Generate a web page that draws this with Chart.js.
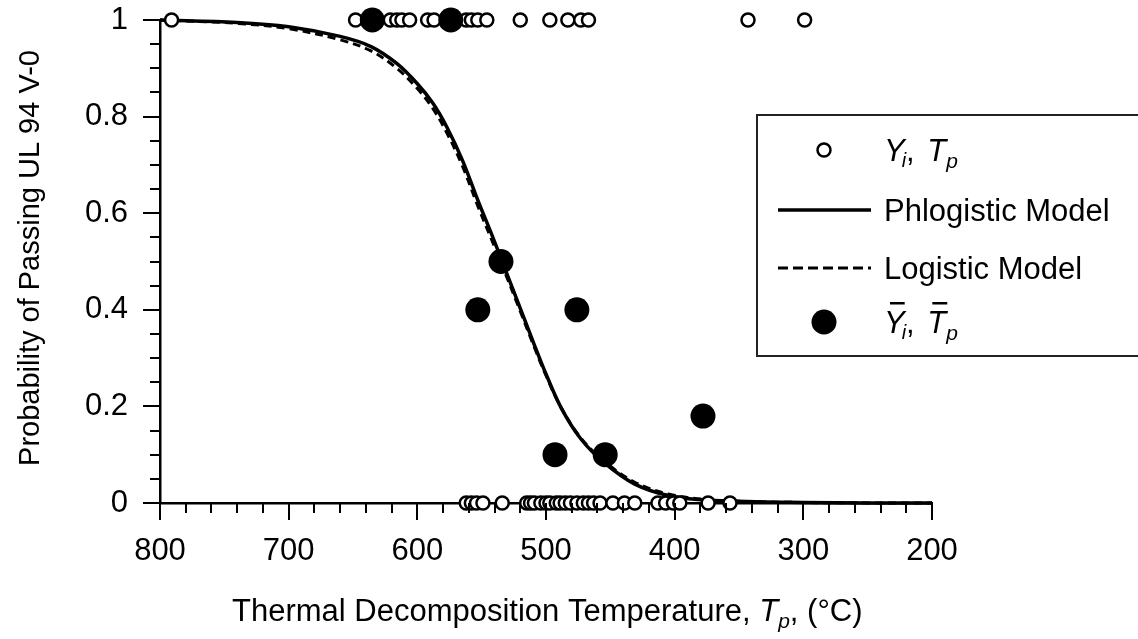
<!DOCTYPE html>
<html>
<head>
<meta charset="utf-8">
<script src="https://cdn.jsdelivr.net/npm/chart.js@4.4.1/dist/chart.umd.min.js"></script>
<style>
  html, body { margin: 0; padding: 0; background: #fff; }
  #wrap { width: 1138px; height: 639px; position: relative; }
</style>
</head>
<body>
<div id="wrap"><canvas id="c"></canvas></div>
<script>
// ---- Data ----
// Individual observations Y_i = 1 (passed) : decomposition temperature Tp (°C)
const passTemps = [791, 648, 621, 616, 612, 606, 592, 587, 562, 558, 553, 546, 520, 497, 483, 473, 467, 343, 299];
// Individual observations Y_i = 0 (failed)
const failTemps = [562, 558, 554, 549, 534, 515, 512, 509, 504, 500, 497, 492, 489, 485, 481, 476, 471, 467, 463, 458, 448, 439, 431, 413, 407, 401, 396, 374, 357];
// Group means (T̄p, Ȳi)
const meanTemps = [635, 574, 553, 535, 476, 493, 454, 378];
const meanProbs = [1.0, 1.0, 0.4, 0.5, 0.4, 0.1, 0.1, 0.18];
// Model curves
const curveTemps      = [800, 740, 700, 660, 636, 616, 600, 588, 577, 565, 553, 541, 532, 520, 509, 500, 488, 473, 455, 431, 404, 369, 300, 200];
const phlogisticProbs = [1.0, 0.995, 0.986, 0.966, 0.945, 0.91, 0.868, 0.828, 0.778, 0.71, 0.627, 0.548, 0.486, 0.403, 0.327, 0.267, 0.196, 0.133, 0.084, 0.039, 0.015, 0.005, 0.001, 0.0];
const logisticProbs   = [1.0, 0.993, 0.982, 0.959, 0.936, 0.90, 0.858, 0.817, 0.766, 0.698, 0.615, 0.537, 0.478, 0.397, 0.322, 0.264, 0.196, 0.135, 0.087, 0.043, 0.018, 0.006, 0.001, 0.0];
// Axis ticks
const xTickValues = [800, 700, 600, 500, 400, 300, 200];
const yTickValues = [0, 0.2, 0.4, 0.6, 0.8, 1];

const FONT = '"Liberation Sans", Arial, Helvetica, sans-serif';
const FS = 31;

const toXY = (xs, ys) => xs.map((x, i) => ({ x: x, y: ys[i] }));

const overlay = {
  id: 'overlay',
  afterDraw(chart) {
    const ctx = chart.ctx;
    const xs = chart.scales.x, ys = chart.scales.y;
    const ca = chart.chartArea;
    ctx.save();
    ctx.strokeStyle = '#000';
    ctx.lineWidth = 2;
    ctx.lineCap = 'butt';
    // y ticks (major every 0.2, minor every 0.05)
    for (let k = 0; k <= 20; k++) {
      const v = k * 0.05;
      const major = k % 4 === 0;
      const py = Math.round(ys.getPixelForValue(v));
      ctx.beginPath();
      ctx.moveTo(ca.left - (major ? 17 : 10), py);
      ctx.lineTo(ca.left + ((k === 0 || k === 20) ? 3 : 0), py);
      ctx.stroke();
    }
    // x ticks (major every 100, minor every 20)
    for (let v = 200; v <= 800; v += 20) {
      const major = v % 100 === 0;
      const px = Math.round(xs.getPixelForValue(v));
      ctx.beginPath();
      ctx.moveTo(px, ca.bottom);
      ctx.lineTo(px, ca.bottom + (major ? 17 : 10));
      ctx.stroke();
    }

    ctx.fillStyle = '#000';
    ctx.textBaseline = 'alphabetic';
    // x axis title
    const xt = 'Thermal Decomposition Temperature, ';
    let x = 232; const by = 621;
    ctx.font = FS + 'px ' + FONT;
    ctx.textAlign = 'left';
    ctx.fillText(xt, x, by); x += ctx.measureText(xt).width;
    ctx.font = 'italic ' + FS + 'px ' + FONT;
    ctx.fillText('T', x, by); x += ctx.measureText('T').width;
    ctx.font = 'italic 21px ' + FONT;
    ctx.fillText('p', x, by + 7); x += ctx.measureText('p').width;
    ctx.font = FS + 'px ' + FONT;
    ctx.fillText(', (°C)', x, by);

    // y axis title
    ctx.save();
    ctx.translate(31, 258);
    ctx.rotate(-Math.PI / 2);
    ctx.font = '29px ' + FONT;
    ctx.textAlign = 'center';
    ctx.textBaseline = 'middle';
    ctx.fillText('Probability of Passing UL 94 V-0', 0, 0);
    ctx.restore();

    // legend box
    ctx.lineWidth = 2;
    ctx.strokeStyle = '#222';
    ctx.strokeRect(757, 115, 420, 241);

    const sx = 824, lx0 = 778, lx1 = 871, tx = 884;
    const rows = [150, 210, 268, 322];
    // row 1: open circle
    ctx.beginPath();
    ctx.arc(sx, rows[0], 6.5, 0, Math.PI * 2);
    ctx.fillStyle = '#fff'; ctx.fill();
    ctx.lineWidth = 2.5; ctx.strokeStyle = '#000'; ctx.stroke();
    ctx.fillStyle = '#000';
    const drawSym = (bar, baseY) => {
      let xx = tx;
      ctx.textAlign = 'left';
      ctx.textBaseline = 'alphabetic';
      ctx.font = 'italic ' + FS + 'px ' + FONT;
      const wY = ctx.measureText('Y').width;
      ctx.fillText('Y', xx, baseY);
      if (bar) { ctx.fillRect(xx + 6, baseY - 31, wY - 6, 2.5); }
      xx += wY;
      ctx.font = 'italic 20px ' + FONT;
      ctx.fillText('i', xx - 3, baseY + 6); xx += ctx.measureText('i').width - 3;
      ctx.font = FS + 'px ' + FONT;
      ctx.fillText(',', xx, baseY); xx += ctx.measureText(', ').width + 4;
      ctx.font = 'italic ' + FS + 'px ' + FONT;
      const wT = ctx.measureText('T').width;
      ctx.fillText('T', xx, baseY);
      if (bar) { ctx.fillRect(xx + 5, baseY - 31, wT - 4, 2.5); }
      xx += wT;
      ctx.font = 'italic 21px ' + FONT;
      ctx.fillText('p', xx, baseY + 7);
    };
    drawSym(false, rows[0] + 11);
    // row 2: solid line
    ctx.lineWidth = 3.5; ctx.setLineDash([]);
    ctx.beginPath(); ctx.moveTo(lx0, rows[1]); ctx.lineTo(lx1, rows[1]); ctx.stroke();
    ctx.font = FS + 'px ' + FONT; ctx.textAlign = 'left'; ctx.textBaseline = 'alphabetic';
    ctx.fillText('Phlogistic Model', tx, rows[1] + 11);
    // row 3: dashed line
    ctx.lineWidth = 3; ctx.setLineDash([10, 5]);
    ctx.beginPath(); ctx.moveTo(lx0, rows[2]); ctx.lineTo(lx1, rows[2]); ctx.stroke();
    ctx.setLineDash([]);
    ctx.fillText('Logistic Model', tx, rows[2] + 11);
    // row 4: filled circle
    ctx.beginPath(); ctx.arc(sx, rows[3], 12.5, 0, Math.PI * 2); ctx.fill();
    drawSym(true, rows[3] + 11);
    ctx.restore();
  }
};

new Chart(document.getElementById('c'), {
  type: 'scatter',
  data: {
    datasets: [
      {
        label: 'Ȳi, T̄p',
        data: toXY(meanTemps, meanProbs),
        pointStyle: 'circle', pointRadius: 12.5,
        backgroundColor: '#000', borderColor: '#000', borderWidth: 0,
        showLine: false, clip: false, order: 0
      },
      {
        label: 'Yi, Tp (pass)',
        data: passTemps.map(t => ({ x: t, y: 1 })),
        pointStyle: 'circle', pointRadius: 6.5,
        backgroundColor: '#fff', borderColor: '#000', pointBorderWidth: 2.5,
        showLine: false, clip: false, order: 1
      },
      {
        label: 'Yi, Tp (fail)',
        data: failTemps.map(t => ({ x: t, y: 0 })),
        pointStyle: 'circle', pointRadius: 6.5,
        backgroundColor: '#fff', borderColor: '#000', pointBorderWidth: 2.5,
        showLine: false, clip: false, order: 1
      },
      {
        label: 'Phlogistic Model',
        data: toXY(curveTemps, phlogisticProbs),
        showLine: true, pointRadius: 0, borderColor: '#000', borderWidth: 3.5,
        tension: 0.35, fill: false, clip: false, order: 2
      },
      {
        label: 'Logistic Model',
        data: toXY(curveTemps, logisticProbs),
        showLine: true, pointRadius: 0, borderColor: '#000', borderWidth: 3,
        borderDash: [8, 5],
        tension: 0.35, fill: false, clip: false, order: 3
      }
    ]
  },
  options: {
    responsive: true,
    maintainAspectRatio: false,
    animation: false,
    events: [],
    layout: { padding: { top: 20, right: 206, left: 0, bottom: 0 } },
    plugins: { legend: { display: false }, tooltip: { enabled: false } },
    scales: {
      x: {
        type: 'linear', reverse: true, min: 200, max: 800,
        afterFit: s => { s.height = 136; s.paddingLeft = 0; s.paddingRight = 0; s.paddingTop = 0; s.paddingBottom = 0; },
        afterBuildTicks: s => { s.ticks = xTickValues.map(v => ({ value: v })); },
        grid: { display: true, drawOnChartArea: false, drawTicks: false },
        border: { display: true, color: '#000', width: 2.5 },
        ticks: {
          font: { family: FONT, size: FS }, color: '#000', padding: 30,
          maxRotation: 0, autoSkip: false,
          callback: v => String(v)
        }
      },
      y: {
        type: 'linear', min: 0, max: 1,
        afterFit: s => { s.width = 160; s.paddingLeft = 0; s.paddingRight = 0; s.paddingTop = 0; s.paddingBottom = 0; },
        afterBuildTicks: s => { s.ticks = yTickValues.map(v => ({ value: v })); },
        grid: { display: true, drawOnChartArea: false, drawTicks: false },
        border: { display: true, color: '#000', width: 2.5 },
        ticks: {
          font: { family: FONT, size: FS }, color: '#000', padding: 32,
          autoSkip: false,
          callback: v => (v === 0 || v === 1) ? String(v) : v.toFixed(1)
        }
      }
    }
  },
  plugins: [overlay]
});
</script>
</body>
</html>
